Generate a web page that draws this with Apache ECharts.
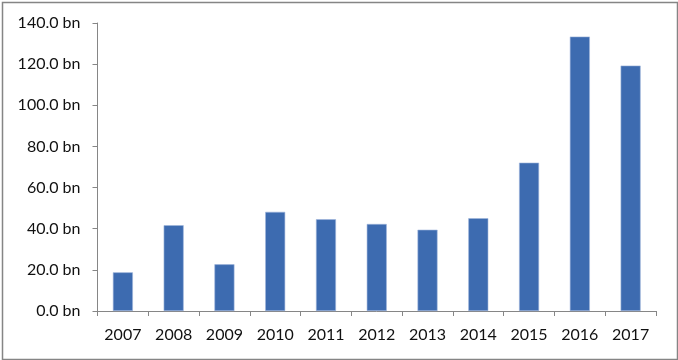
<!DOCTYPE html>
<html><head><meta charset="utf-8">
<script src="https://cdn.jsdelivr.net/npm/echarts@6/dist/echarts.min.js"></script>
<style>html,body{margin:0;padding:0;background:#fff}#c{width:678px;height:360px}</style>
</head><body><div id="c"></div>
<script>
var categories = ['2007','2008','2009','2010','2011','2012','2013','2014','2015','2016','2017'];
var values = [18.8, 41.7, 22.7, 48.2, 44.6, 42.3, 39.5, 45.1, 72.1, 133.4, 119.3];
var yTicks = [0, 20, 40, 60, 80, 100, 120, 140];

var chart = echarts.init(document.getElementById('c'), null, {renderer: 'canvas'});
chart.setOption({
  animation: false,
  backgroundColor: '#fff',
  textStyle: {fontFamily: 'Lato'},
  graphic: [{
    type: 'rect', left: 0, top: 0, silent: true,
    shape: {x: 1, y: 1, width: 675, height: 357},
    style: {fill: 'none', stroke: '#858585', lineWidth: 1.5}
  }],
  grid: {left: 97.5, right: 22, top: 23, bottom: 49},
  xAxis: {
    type: 'category',
    data: categories,
    axisLine: {lineStyle: {color: '#868686', width: 1}},
    axisTick: {show: true, length: 5, inside: false, alignWithLabel: false, lineStyle: {color: '#868686'}},
    axisLabel: {color: '#111', fontSize: 16, fontFamily: 'Lato', margin: 16}
  },
  yAxis: {
    type: 'value',
    min: yTicks[0], max: yTicks[yTicks.length - 1], interval: 20,
    axisLine: {show: true, lineStyle: {color: '#868686', width: 1}},
    axisTick: {show: true, length: 5, lineStyle: {color: '#868686'}},
    splitLine: {show: false},
    axisLabel: {color: '#111', fontSize: 16, fontFamily: 'Lato', margin: 17,
      formatter: function (v) { return v.toFixed(1) + ' bn'; }}
  },
  series: [{
    type: 'bar',
    data: values,
    barWidth: 20,
    itemStyle: {color: '#3D6BB0', borderColor: '#9FB6DC', borderWidth: 0.6}
  }]
});
</script></body></html>
